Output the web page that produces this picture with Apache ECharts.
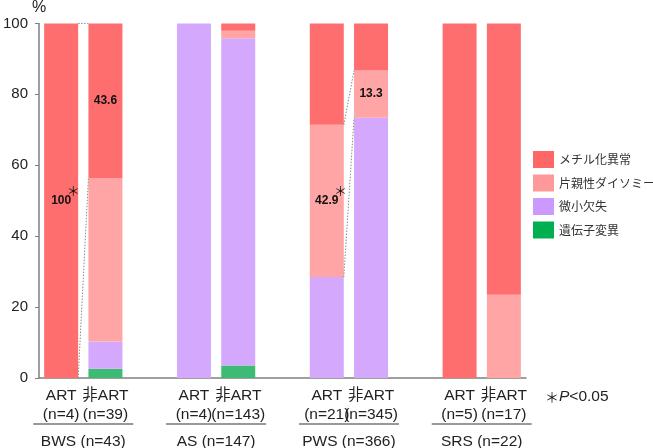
<!DOCTYPE html>
<html><head><meta charset="utf-8">
<script src="https://cdn.jsdelivr.net/npm/echarts@6/dist/echarts.min.js"></script>
<style>html,body{margin:0;padding:0;background:#fff}#c{width:653px;height:448px}</style>
</head><body><div id="c"></div>
<script>
// ---- data ----
const categories = ['BWS-ART','BWS-nonART','gap1','AS-ART','AS-nonART','gap2','PWS-ART','PWS-nonART','gap3','SRS-ART','SRS-nonART'];
const tickLabels = ['ART\n(n=4)','非ART\n(n=39)','','ART\n(n=4)','非ART\n(n=143)','','ART\n(n=21)','非ART\n(n=345)','','ART\n(n=5)','非ART\n(n=17)'];
const groupLabels = ['BWS (n=43)','AS (n=147)','PWS (n=366)','SRS (n=22)'];
const groupSpans = [[0,1],[3,4],[6,7],[9,10]];
const seriesNames = ['遺伝子変異','微小欠失','片親性ダイソミー','メチル化異常']; // bottom -> top
const mutation    = [0,   2.6, null, 0,   3.5,  null, 0,    0,    null, 0,   0];
const deletion    = [0,   7.7, null, 100, 92.3, null, 28.5, 73.4, null, 0,   0];
const upd         = [0,   46.1,null, 0,   2.1,  null, 42.9, 13.3, null, 0,   23.5];
const methylation = [100, 43.6,null, 0,   2.1,  null, 28.6, 13.3, null, 100, 76.5];
const yTicks = [0,20,40,60,80,100];
const legendOrder = ['メチル化異常','片親性ダイソミー','微小欠失','遺伝子変異'];
const annotated = [{s:3,i:0,star:true},{s:3,i:1,star:false},{s:2,i:6,star:true},{s:2,i:7,star:false}];
const connectors = [{s:3,from:0,to:1},{s:2,from:6,to:7}];

// ---- styles ----
const barColors = ['#3DBB74','#D4A9FD','#FFA5A5','#FF6E6E'];
const legendColors = ['#00B050','#CC99FF','#FF9999','#FF6666'];
const BAR_W = 34;
const FONT = '"Liberation Sans", Arial, "Noto Sans CJK JP", sans-serif';
const JFONT = '"Noto Sans CJK JP", sans-serif';

const stacks = [mutation, deletion, upd, methylation];
function bottomOf(s, i){ let b=0; for(let k=0;k<s;k++) b += (stacks[k][i]||0); return b; }
function topOf(s, i){ return bottomOf(s,i) + (stacks[s][i]||0); }

const barSeries = stacks.map((arr, s) => ({
  name: seriesNames[s],
  type: 'bar',
  stack: 'total',
  barWidth: BAR_W,
  itemStyle: { color: barColors[s] },
  emphasis: { disabled: true },
  data: arr.map((v, i) => {
    const a = annotated.find(o => o.s === s && o.i === i);
    if (!a || v == null) return v;
    return {
      value: v,
      label: {
        show: true,
        position: 'inside',
        offset: a.star ? [2, 0] : [0, 0],
        formatter: a.star ? '{n|' + v + '}{s|＊}' : '{n|' + v + '}',
        rich: {
          n: { fontFamily: FONT, fontWeight: 'bold', fontSize: 12, color: '#111' },
          s: { fontFamily: JFONT, fontSize: 13, color: '#111', width: 4, align: 'center', padding: [0,0,20,0] }
        }
      }
    };
  })
}));

const connectorSeries = {
  type: 'custom',
  silent: true,
  clip: false,
  z: 5,
  encode: { x: 0, y: 3 },
  data: connectors.map(c => [c.from, c.to, bottomOf(c.s,c.from), topOf(c.s,c.from), bottomOf(c.s,c.to), topOf(c.s,c.to)]),
  renderItem: function(params, api){
    const f = api.value(0), t = api.value(1);
    const h = BAR_W/2;
    const l0 = api.coord([f, api.value(2)]), l1 = api.coord([f, api.value(3)]);
    const r0 = api.coord([t, api.value(4)]), r1 = api.coord([t, api.value(5)]);
    const st = { stroke: '#8a8a8a', lineWidth: 1, lineDash: [1.5,1.5] };
    return { type: 'group', children: [
      { type: 'line', shape: { x1: l1[0]+h, y1: l1[1], x2: r1[0]-h, y2: r1[1] }, style: st },
      { type: 'line', shape: { x1: l0[0]+h, y1: l0[1], x2: r0[0]-h, y2: r0[1] }, style: st }
    ]};
  }
};

const groupSeries = {
  type: 'custom',
  silent: true,
  clip: false,
  encode: { x: 0, y: 2 },
  data: groupSpans.map(g => [g[0], g[1], 0]),
  renderItem: function(params, api){
    const p0 = api.coord([api.value(0), 0]);
    const p1 = api.coord([api.value(1), 0]);
    const cx = (p0[0] + p1[0]) / 2;
    const y0 = p0[1];
    return { type: 'group', children: [
      { type: 'line', shape: { x1: cx-50, y1: y0+46, x2: cx+50, y2: y0+46 }, style: { stroke: '#333', lineWidth: 1 } },
      { type: 'text', style: { text: groupLabels[params.dataIndex], x: cx, y: y0+64, align: 'center', verticalAlign: 'middle',
        font: '15.5px ' + FONT, fill: '#222' } }
    ]};
  }
};

const chart = echarts.init(document.getElementById('c'), null, { renderer: 'canvas' });
chart.setOption({
  animation: false,
  backgroundColor: '#fff',
  grid: { left: 36, right: 127, top: 22, bottom: 70, containLabel: false },
  legend: {
    orient: 'vertical', left: 528, top: 146,
    itemWidth: 21, itemHeight: 17, itemGap: 6.5,
    icon: 'rect',
    selectedMode: false,
    textStyle: { fontFamily: JFONT, fontSize: 12, color: '#333' },
    data: legendOrder.map(n => ({ name: n, itemStyle: { color: legendColors[seriesNames.indexOf(n)] } }))
  },
  xAxis: {
    type: 'category',
    data: categories,
    axisLine: { lineStyle: { color: '#808080', width: 1.5 } },
    axisTick: { show: false },
    axisLabel: {
      interval: 0, margin: 8,
      formatter: (v, i) => tickLabels[i],
      fontFamily: FONT, fontSize: 15.5, lineHeight: 19, color: '#222'
    }
  },
  yAxis: {
    type: 'value', min: yTicks[0], max: yTicks[yTicks.length-1], interval: yTicks[1]-yTicks[0],
    name: '%', nameLocation: 'end', nameGap: -1,
    nameTextStyle: { fontFamily: FONT, fontSize: 16, color: '#222', align: 'center' },
    axisLine: { show: true, lineStyle: { color: '#808080', width: 1.5 } },
    axisTick: { show: true, length: 4, lineStyle: { color: '#808080' } },
    splitLine: { show: false },
    axisLabel: { margin: 11, fontFamily: FONT, fontSize: 15, color: '#222' }
  },
  graphic: [{
    type: 'text', left: 545, top: 389, silent: true,
    style: {
      text: '{s|＊}{p|P}{t|<0.05}',
      rich: {
        s: { fontFamily: JFONT, fontSize: 14, fill: '#222' },
        p: { fontFamily: FONT, fontSize: 15.5, fontStyle: 'italic', fill: '#222' },
        t: { fontFamily: FONT, fontSize: 15.5, fill: '#222' }
      }
    }
  }],
  series: barSeries.concat([connectorSeries, groupSeries])
});
</script>
</body></html>
